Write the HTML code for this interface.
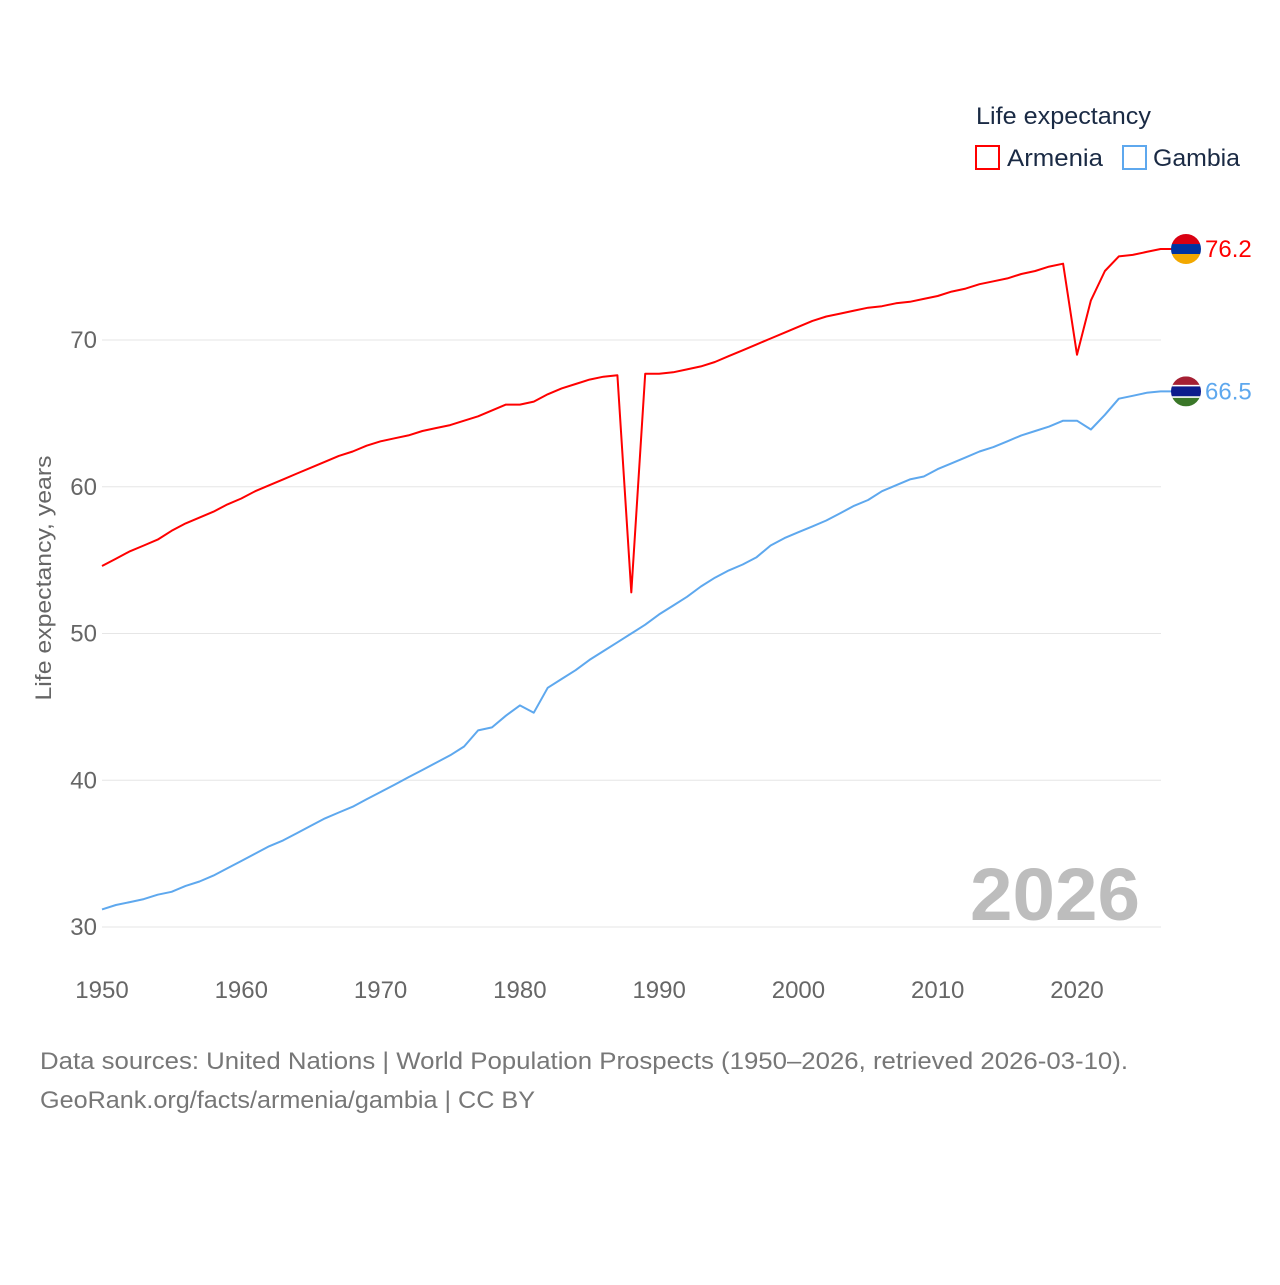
<!DOCTYPE html>
<html><head><meta charset="utf-8"><style>
body{margin:0;background:#fff;font-family:"Liberation Sans",sans-serif}
svg text{font-family:"Liberation Sans",sans-serif}
</style></head><body>
<svg width="1280" height="1280" id="c">
<g id="grid"></g>
<g id="lines"></g>
<text x="976" y="124" font-size="24" fill="#1a2a44" textLength="175" lengthAdjust="spacingAndGlyphs">Life expectancy</text>
<rect x="976" y="146" width="23" height="23" fill="none" stroke="#ff0000" stroke-width="2"/>
<text x="1007" y="166" font-size="24" fill="#1a2a44" textLength="96" lengthAdjust="spacingAndGlyphs">Armenia</text>
<rect x="1123" y="146" width="23" height="23" fill="none" stroke="#5ea8ee" stroke-width="2"/>
<text x="1153" y="166" font-size="24" fill="#1a2a44" textLength="87" lengthAdjust="spacingAndGlyphs">Gambia</text>
<text transform="translate(51,578) rotate(-90)" text-anchor="middle" font-size="22" fill="#666" textLength="245" lengthAdjust="spacingAndGlyphs">Life expectancy, years</text>
<text x="970" y="920" font-size="74" font-weight="bold" fill="#bdbdbd" textLength="170" lengthAdjust="spacingAndGlyphs">2026</text>
<text x="40" y="1069" font-size="24" fill="#777" textLength="1088" lengthAdjust="spacingAndGlyphs">Data sources: United Nations | World Population Prospects (1950–2026, retrieved 2026-03-10).</text>
<text x="40" y="1108" font-size="24" fill="#777" textLength="495" lengthAdjust="spacingAndGlyphs">GeoRank.org/facts/armenia/gambia | CC BY</text>
</svg>
<script>
const years=[];for(let y=1950;y<=2026;y++)years.push(y);
const armenia=[54.6,55.1,55.6,56.0,56.4,57.0,57.5,57.9,58.3,58.8,59.2,59.7,60.1,60.5,60.9,61.3,61.7,62.1,62.4,62.8,63.1,63.3,63.5,63.8,64.0,64.2,64.5,64.8,65.2,65.6,65.6,65.8,66.3,66.7,67.0,67.3,67.5,67.6,52.8,67.7,67.7,67.8,68.0,68.2,68.5,68.9,69.3,69.7,70.1,70.5,70.9,71.3,71.6,71.8,72.0,72.2,72.3,72.5,72.6,72.8,73.0,73.3,73.5,73.8,74.0,74.2,74.5,74.7,75.0,75.2,69.0,72.7,74.7,75.7,75.8,76.0,76.2];
const gambia=[31.2,31.5,31.7,31.9,32.2,32.4,32.8,33.1,33.5,34.0,34.5,35.0,35.5,35.9,36.4,36.9,37.4,37.8,38.2,38.7,39.2,39.7,40.2,40.7,41.2,41.7,42.3,43.4,43.6,44.4,45.1,44.6,46.3,46.9,47.5,48.2,48.8,49.4,50.0,50.6,51.3,51.9,52.5,53.2,53.8,54.3,54.7,55.2,56.0,56.5,56.9,57.3,57.7,58.2,58.7,59.1,59.7,60.1,60.5,60.7,61.2,61.6,62.0,62.4,62.7,63.1,63.5,63.8,64.1,64.5,64.5,63.9,64.9,66.0,66.2,66.4,66.5];
const yTicks=[30,40,50,60,70];
const xTicks=[1950,1960,1970,1980,1990,2000,2010,2020];
const X=y=>102+(y-1950)*(975/70);
const Y=v=>927-(v-30)*14.675;
const NS='http://www.w3.org/2000/svg';
const grid=document.getElementById('grid'),lines=document.getElementById('lines');
function mk(tag,attrs,parent){const e=document.createElementNS(NS,tag);for(const k in attrs)e.setAttribute(k,attrs[k]);parent.appendChild(e);return e;}
yTicks.forEach(t=>{
 const l=mk('line',{x1:102,x2:1161,y1:Y(t),y2:Y(t),stroke:'#e6e6e6','stroke-width':1},grid);
 
 
 const tx=mk('text',{x:97,y:Y(t)+8,'text-anchor':'end','font-size':24,fill:'#666'},grid);
 tx.textContent=t;
 
 
});
xTicks.forEach(t=>{
 const tx=mk('text',{x:X(t),y:998,'text-anchor':'middle','font-size':24,fill:'#666'},grid);
 tx.textContent=t;
 
 
});
function series(vals,color,name,flag){
 const last=vals[vals.length-1];
 const d=vals.map((v,i)=>(i?'L':'M')+X(years[i]).toFixed(1)+' '+Y(v).toFixed(1)).join(' ')+' L1172 '+Y(last).toFixed(1);
 const p=mk('path',{d:d,fill:'none',stroke:color,'stroke-width':2,'stroke-linejoin':'round'},lines);
 
 
 const cy=Y(last),cx=1186,r=15;
 const g=mk('g',{},lines);
 
 
 const cp=mk('clipPath',{id:'cl'+name},g);mk('circle',{cx:cx,cy:cy,r:r},cp);
 const h=2*r/3;
 flag.forEach((c,i)=>mk('rect',{x:cx-r,y:cy-r+i*h,width:2*r,height:h,fill:c,'clip-path':'url(#cl'+name+')'},g));
 if(name==='gambia'){mk('rect',{x:cx-r,y:cy-r+h-1.5,width:2*r,height:1.5,fill:'#fff','clip-path':'url(#cl'+name+')'},g);mk('rect',{x:cx-r,y:cy-r+2*h,width:2*r,height:1.5,fill:'#fff','clip-path':'url(#cl'+name+')'},g);}
 const t=mk('text',{x:1205,y:cy+8,'font-size':24,fill:color},lines);
 t.textContent=last.toFixed(1);
 
 
}
series(armenia,'#ff0000','armenia',['#d90012','#0033a0','#f2a800']);
series(gambia,'#5ea8ee','gambia',['#a51f33','#0c1c8c','#3a7728']);
</script>
</body></html>
